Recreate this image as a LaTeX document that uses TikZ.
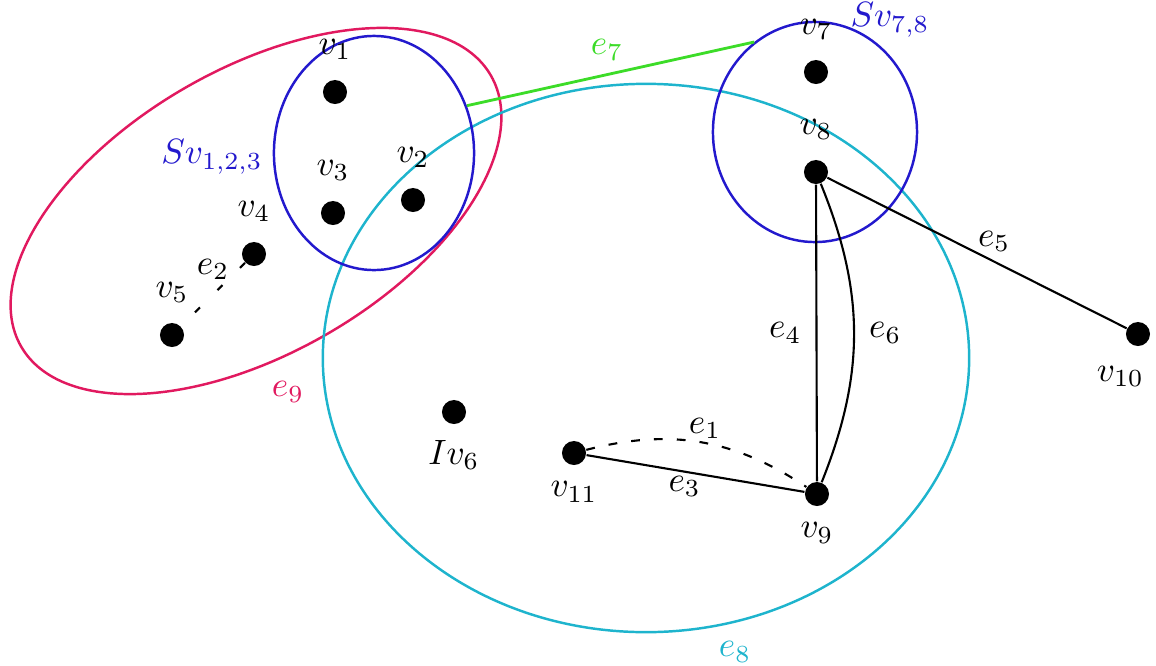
\documentclass[tikz,border=0pt]{standalone}
\usetikzlibrary{shapes.geometric}
\definecolor{hmag}{RGB}{225,25,95}
\definecolor{hblue}{RGB}{35,25,205}
\definecolor{hcyan}{RGB}{30,180,205}
\definecolor{hgreen}{RGB}{60,220,40}
\tikzset{
  vdot/.style={circle,fill=black,inner sep=0pt,minimum size=0.24cm},
  hedge/.style={ellipse,draw,line width=0.7pt,inner sep=0pt},
  gedge/.style={line width=0.6pt},
  dashA/.style={gedge,dash pattern=on 2.5pt off 4pt},
  dashB/.style={gedge,dash pattern=on 2pt off 7pt},
  elab/.style={inner sep=1pt}
}
\begin{document}
\begin{tikzpicture}[x=0.01cm,y=-0.01cm]
\useasboundingbox (0,0) rectangle (1156,666);
% hyperedges
\node[hedge,draw=hmag,rotate=30,minimum width=5.42cm,minimum height=2.84cm] (E9) at (256,211) {};
\node[hedge,draw=hcyan,minimum width=6.46cm,minimum height=5.48cm] (E8) at (646,358) {};
\node[hedge,draw=hblue,minimum width=2.0cm,minimum height=2.34cm] (S123) at (374,153) {};
\node[hedge,draw=hblue,minimum width=2.04cm,minimum height=2.2cm] (S78) at (815,132) {};
\draw[hgreen,line width=0.8pt] (S123.27) -- (S78.124);
% labels of hyperedges
\node[text=hblue] (LS123) at (212,157) {$Sv_{1,2,3}$};
\node[text=hblue] (LS78) at (890,20) {$Sv_{7,8}$};
\node[text=hmag] (LE9) at (288,392) {$e_9$};
\node[text=hcyan] (LE8) at (735,652) {$e_8$};
\node[text=hgreen] (LE7) at (607,50) {$e_7$};
% vertices
\node[vdot,label={[label distance=2pt]above:$v_1$}] (v1) at (335,92) {};
\node[vdot,label={[label distance=2pt]above:$v_3$}] (v3) at (333,213) {};
\node[vdot,label={[label distance=2pt]above:$v_2$}] (v2) at (413,200) {};
\node[vdot,label={[label distance=2pt]above:$v_4$}] (v4) at (254,254) {};
\node[vdot,label={[label distance=2pt]above:$v_5$}] (v5) at (172,335) {};
\node[vdot,label={[label distance=1pt]below:$Iv_6$}] (v6) at (454,412) {};
\node[vdot,label={[label distance=2pt]above:$v_7$}] (v7) at (816,72) {};
\node[vdot,label={[label distance=2pt]above:$v_8$}] (v8) at (816,172) {};
\node[vdot,label={[label distance=1pt]below:$v_9$}] (v9) at (817,494) {};
\node[vdot,label={[label distance=2pt,xshift=-5pt]below:$v_{10}$}] (v10) at (1138,334) {};
\node[vdot,label={[label distance=1pt]below:$v_{11}$}] (v11) at (574,453) {};
% edges
\draw[dashB] (v4) -- node[elab,above=3pt,pos=0.5] {$e_2$} (v5);
\draw[dashA] (v11) to[bend left=24] node[elab,above,pos=0.52] {$e_1$} (v9);
\draw[gedge] (v11) -- node[elab,below,pos=0.45] {$e_3$} (v9);
\draw[gedge] (v8) -- node[elab,left=3pt] {$e_4$} (v9);
\draw[gedge] (v8) to[bend left=22] node[elab,right=3pt] {$e_6$} (v9);
\draw[gedge] (v8) -- node[elab,above right=-1pt,pos=0.5] {$e_5$} (v10);
\end{tikzpicture}
\end{document}
